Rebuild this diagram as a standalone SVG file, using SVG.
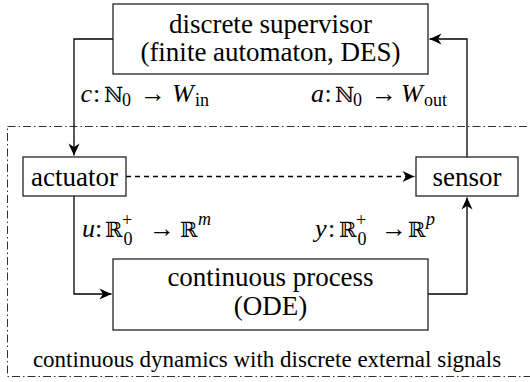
<svg xmlns="http://www.w3.org/2000/svg" width="530" height="382" viewBox="0 0 530 382">
  <style>
    text { font-family: "Liberation Serif", "Times New Roman", "DejaVu Serif", serif; fill: #000; }
    .box { fill: #fff; stroke: #222; stroke-width: 1.3; }
    .txt { font-size: 27px; text-anchor: middle; }
    .small { font-size: 23px; text-anchor: middle; }
    .math { font-size: 26px; }
    .it { font-style: italic; }
    .bb { font-size: 21px; }
    .sub { font-size: 18px; }
    .wire { fill: none; stroke: #000; stroke-width: 1.3; }
    .dashed { stroke-dasharray: 5 4; }
    .frame { fill: none; stroke: #333; stroke-width: 1; stroke-dasharray: 8 3 1.5 3; }
  </style>
  <defs>
    <marker id="arrow" viewBox="-13 -6 14 12" markerWidth="14" markerHeight="12" refX="0" refY="0" orient="auto" markerUnits="userSpaceOnUse">
      <path d="M0,0 L-12,-5.5 L-8.5,0 L-12,5.5 Z" fill="#000"/>
    </marker>
  </defs>

  <!-- region of continuous dynamics -->
  <g id="frame">
    <rect class="frame" x="7.5" y="126.5" width="540" height="250"/>
    <text class="small" x="267" y="367">continuous dynamics with discrete external signals</text>
  </g>

  <!-- connectors -->
  <g id="connectors">
    <path class="wire" d="M113,39 H74 V155.5" marker-end="url(#arrow)"/>
    <path class="wire" d="M467,157 V39 H429.5" marker-end="url(#arrow)"/>
    <path class="wire" d="M74,196 V294 H111.5" marker-end="url(#arrow)"/>
    <path class="wire" d="M428,294 H467 V197.5" marker-end="url(#arrow)"/>
    <path class="wire dashed" d="M126,176.5 H414.5" marker-end="url(#arrow)"/>
  </g>

  <!-- nodes -->
  <g id="supervisor">
    <rect class="box" x="113" y="4" width="315" height="70"/>
    <text class="txt" x="270.5" y="33">discrete supervisor</text>
    <text class="txt" x="270.5" y="61">(finite automaton, DES)</text>
  </g>
  <g id="actuator">
    <rect class="box" x="23" y="157" width="103" height="39"/>
    <text class="txt" x="74.5" y="186">actuator</text>
  </g>
  <g id="sensor">
    <rect class="box" x="416" y="157" width="102" height="39"/>
    <text class="txt" x="467" y="186">sensor</text>
  </g>
  <g id="process">
    <rect class="box" x="113" y="259" width="315" height="71"/>
    <text class="txt" x="270.5" y="286">continuous process</text>
    <text class="txt" x="270.5" y="315">(ODE)</text>
  </g>

  <!-- signal labels -->
  <g id="labels" class="math">
    <text class="math" y="102"><tspan class="it" x="80.5">c</tspan><tspan x="93">:</tspan><tspan class="bb" x="104">ℕ</tspan><tspan class="sub" x="122" y="106">0</tspan><tspan x="140" y="102">→</tspan><tspan class="it" x="172">W</tspan><tspan class="sub" x="195" y="106">in</tspan></text>
    <text class="math" y="102"><tspan class="it" x="311">a</tspan><tspan x="324.5">:</tspan><tspan class="bb" x="335">ℕ</tspan><tspan class="sub" x="353" y="106">0</tspan><tspan x="371" y="102">→</tspan><tspan class="it" x="401">W</tspan><tspan class="sub" x="424" y="106">out</tspan></text>
    <text class="math" y="237"><tspan class="it" x="82">u</tspan><tspan x="95">:</tspan><tspan class="bb" x="105">ℝ</tspan><tspan class="sub" x="122" y="226">+</tspan><tspan class="sub" x="123.5" y="245">0</tspan><tspan x="149" y="237">→</tspan><tspan class="bb" x="180">ℝ</tspan><tspan class="sub it" x="198" y="225">m</tspan></text>
    <text class="math" y="237"><tspan class="it" x="315">y</tspan><tspan x="328">:</tspan><tspan class="bb" x="339">ℝ</tspan><tspan class="sub" x="356" y="226">+</tspan><tspan class="sub" x="357.5" y="245">0</tspan><tspan x="381" y="237">→</tspan><tspan class="bb" x="408">ℝ</tspan><tspan class="sub it" x="426" y="225">p</tspan></text>
  </g>
</svg>
